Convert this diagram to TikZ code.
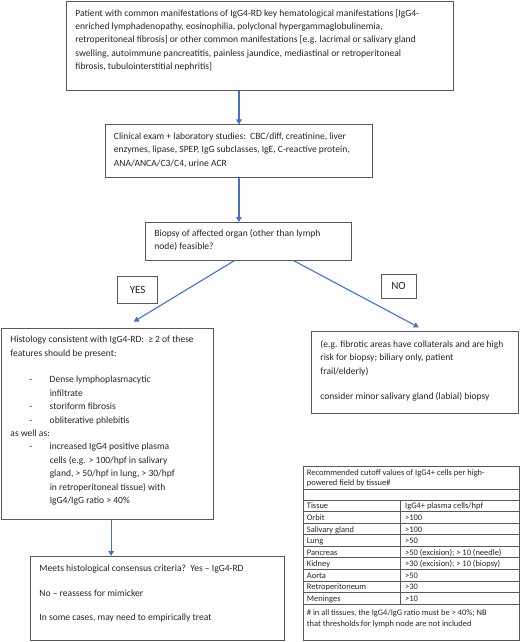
\documentclass[tikz,border=0pt]{standalone}
\usepackage{fontspec}
\setmainfont{Carlito}
\usetikzlibrary{arrows.meta}
\definecolor{arrowblue}{HTML}{4472C4}
\definecolor{boxgray}{HTML}{595959}
\definecolor{txtgray}{HTML}{262626}
\newcommand{\mainsz}{\fontsize{9.55bp}{13.4bp}\selectfont}
\newcommand{\tabsz}{\fontsize{8.45bp}{10bp}\selectfont}
\newcommand{\bx}[4]{\parbox[t][#2][t]{#1}{\raggedright\rule{0pt}{#3}#4}}
\newcommand{\itm}[1]{\hspace*{19bp}\makebox[20.3bp][l]{-}#1}
\newcommand{\cnt}[1]{\hspace*{39.3bp}#1}
\tikzset{
  flowbox/.style={draw=boxgray, line width=0.9bp, anchor=north west, inner xsep=9bp, inner ysep=0bp, text=txtgray, font=\mainsz},
  lblbox/.style={draw=boxgray, line width=0.9bp, inner sep=0bp, text=txtgray, font=\fontsize{11bp}{13bp}\selectfont},
  arr/.style={draw=arrowblue, line width=1.1bp, -{Triangle[width=5.5bp,length=5bp]}},
  tabline/.style={draw=boxgray, line width=0.7bp},
  tabtxt/.style={anchor=base west, inner sep=0bp, text=txtgray, font=\tabsz},
}
\begin{document}
\begin{tikzpicture}[x=1bp,y=-1bp]
\useasboundingbox (0,0) rectangle (520,642);
\fill[white] (0,0) rectangle (520,642);

\node[flowbox] (b1) at (66,1) {\bx{369bp}{89bp}{14.7bp}{Patient with common manifestations of IgG4-RD key hematological manifestations [IgG4-\\
enriched lymphadenopathy, eosinophilia, polyclonal hypergammaglobulinemia,\\
retroperitoneal fibrosis] or other common manifestations [e.g. lacrimal or salivary gland\\
swelling, autoimmune pancreatitis, painless jaundice, mediastinal or retroperitoneal\\
fibrosis, tubulointerstitial nephritis]}};

\node[flowbox, inner xsep=8.5bp] (b2) at (105,124.5) {\bx{250bp}{52.5bp}{14.5bp}{Clinical exam + laboratory studies:\ \ CBC/diff, creatinine, liver\\
enzymes, lipase, SPEP, IgG subclasses, IgE, C-reactive protein,\\
ANA/ANCA/C3/C4, urine ACR}};

\node[flowbox] (b3) at (145,222) {\bx{188bp}{37.5bp}{13.7bp}{Biopsy of affected organ (other than lymph\\
node) feasible?}};

\node[lblbox, minimum width=40bp, minimum height=26.6bp] (yes) at (137.7,290) {YES};
\node[lblbox, minimum width=35bp, minimum height=24.3bp] (no) at (398.5,286.2) {NO};

\node[flowbox, inner xsep=8.7bp] (hist) at (1.3,328.3) {\bx{194bp}{190.7bp}{14bp}{Histology consistent with IgG4-RD:\ \ ≥ 2 of these\\
features should be present:\\[13.4bp]
\itm{Dense lymphoplasmacytic}\\
\cnt{infiltrate}\\
\itm{storiform fibrosis}\\
\itm{obliterative phlebitis}\\
as well as:\\
\itm{increased IgG4 positive plasma}\\
\cnt{cells (e.g. > 100/hpf in salivary}\\
\cnt{gland, > 50/hpf in lung, > 30/hpf}\\
\cnt{in retroperitoneal tissue) with}\\
\cnt{IgG4/IgG ratio > 40\%}}};

\node[flowbox] (nobox) at (311,330.7) {\bx{188.7bp}{82bp}{16.3bp}{(e.g. fibrotic areas have collaterals and are high\\
risk for biopsy; biliary only, patient\\
frail/elderly)\\[11.7bp]
consider minor salivary gland (labial) biopsy}};

\node[flowbox] (fin) at (30,556) {\bx{236bp}{84bp}{15.3bp}{Meets histological consensus criteria?\ \ Yes – IgG4-RD\\[11.2bp]
No – reassess for mimicker\\[11.2bp]
In some cases, may need to empirically treat}};

% arrows
\draw[arr] (b1.south -| b2.north) -- (b2.north);
\draw[arr] (b2.south) -- (b2.south |- b3.north);
\draw[arr] ([xshift=-13.7bp]b3.south) -- ([xshift=26.3bp,yshift=6.6bp]hist.north);
\draw[arr] ([xshift=44.7bp]b3.south) -- ([xshift=4bp,yshift=3.4bp]nobox.north);
\draw[arr] ([xshift=3.7bp]hist.south) -- ([xshift=3.7bp]hist.south |- fin.north);

% table
\node[draw=boxgray, line width=0.8bp, anchor=north west, minimum width=215.7bp, minimum height=174.3bp, inner sep=0bp] (tbl) at (303.3,465.7) {};
\node[tabtxt] (th1) at (306.7,475.6) {Recommended cutoff values of IgG4+ cells per high-};
\node[tabtxt] (th2) at (306.7,485.6) {powered field by tissue\#};
\draw[tabline] (303.3,489) -- (519,489);
\foreach \k in {0,...,9} {
  \draw[tabline] (303.3,{500+\k*11.56}) -- (519,{500+\k*11.56});
}
\draw[tabline] (400,500) -- (400,604);
\foreach \i/\a/\b in {0/Tissue/{IgG4+ plasma cells/hpf}, 1/Orbit/{>100}, 2/{Salivary gland}/{>100}, 3/Lung/{>50}, 4/Pancreas/{>50 (excision); > 10 (needle)}, 5/Kidney/{>30 (excision); > 10 (biopsy)}, 6/Aorta/{>50}, 7/Retroperitoneum/{>30}, 8/Meninges/{>10}} {
  \node[tabtxt] (ra\i) at (306.7,{500+\i*11.56+8.9}) {\a};
  \node[tabtxt] (rb\i) at (405,{500+\i*11.56+8.9}) {\b};
}
\node[tabtxt] (tf1) at (306.7,615.5) {\# in all tissues, the IgG4/IgG ratio must be > 40\%; NB};
\node[tabtxt] (tf2) at (306.7,626.8) {that thresholds for lymph node are not included};
\end{tikzpicture}
\end{document}
